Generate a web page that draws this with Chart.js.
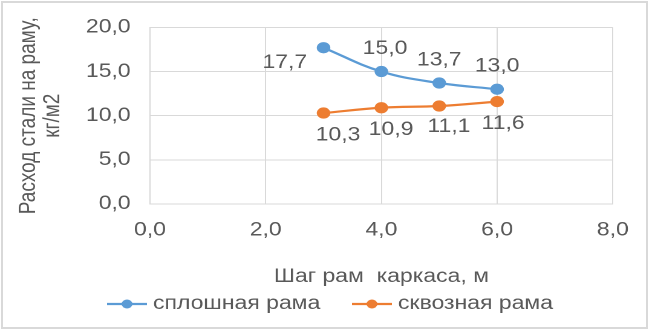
<!DOCTYPE html>
<html>
<head>
<meta charset="utf-8">
<script src="https://cdn.jsdelivr.net/npm/chart.js@4"></script>
<style>
  body { margin: 0; background: #fff; }
  #outer { position: relative; width: 652px; height: 331px; overflow: hidden; }
  #frame { position: absolute; left: 1px; top: 1px; width: 647px; height: 328px; box-sizing: border-box; border: 2px solid #d9d9d9; }
  #wrap { position: absolute; left: 0; top: 0; width: 539px; height: 331px; transform: scaleX(1.2096); transform-origin: 0 0; }
</style>
</head>
<body>
<div id="outer">
  <div id="frame"></div>
  <div id="wrap"><canvas id="chart" width="539" height="331"></canvas></div>
</div>
<script>
const steps = [3, 4, 5, 6];
const solidFrame = [17.7, 15.0, 13.7, 13.0];
const latticeFrame = [10.3, 10.9, 11.1, 11.6];
const seriesNames = ['сплошная рама', 'сквозная рама'];
const xTitle = 'Шаг рам  каркаса, м';
const yTitle = ['Расход стали на раму,', 'кг/м2'];

const textColor = '#595959';
const gridColor = '#d9d9d9';
const colors = ['#5B9BD5', '#ED7D31'];
const font = { family: "'Liberation Sans', Arial, sans-serif", size: 19 };

const fmt = v => v.toFixed(1).replace('.', ',');

// value labels next to each point (offsets in px from the point)
const labelOffsets = [
    [[-32, 15], [3, -23], [0, -23], [0, -23]],
    [[12, 22], [8, 22], [8, 21], [5, 22]]
];

const pointLabels = {
    id: 'pointLabels',
    afterDatasetsDraw(chart) {
        const ctx = chart.ctx;
        ctx.save();
        ctx.font = '19px ' + font.family;
        ctx.fillStyle = textColor;
        ctx.textAlign = 'center';
        ctx.textBaseline = 'middle';
        chart.data.datasets.forEach((ds, i) => {
            chart.getDatasetMeta(i).data.forEach((pt, j) => {
                const off = labelOffsets[i][j];
                ctx.fillText(fmt(ds.data[j].y), pt.x + off[0], pt.y + off[1]);
            });
        });
        ctx.restore();
    }
};

const bottomLegend = {
    id: 'bottomLegend',
    afterDraw(chart) {
        const ctx = chart.ctx;
        const y = 304;
        const starts = [88.5, 291];
        ctx.save();
        ctx.font = '19px ' + font.family;
        ctx.textBaseline = 'middle';
        chart.data.datasets.forEach((ds, i) => {
            const x0 = starts[i];
            ctx.strokeStyle = colors[i];
            ctx.lineWidth = 2.25;
            ctx.beginPath();
            ctx.moveTo(x0, y);
            ctx.lineTo(x0 + 33, y);
            ctx.stroke();
            ctx.fillStyle = colors[i];
            ctx.beginPath();
            ctx.arc(x0 + 16.5, y, 4.5, 0, Math.PI * 2);
            ctx.fill();
            ctx.fillStyle = textColor;
            ctx.fillText(ds.label, x0 + 38, y);
        });
        ctx.restore();
    }
};

const ctx = document.getElementById('chart').getContext('2d');
new Chart(ctx, {
    type: 'line',
    data: {
        datasets: [
            {
                label: seriesNames[0],
                data: steps.map((x, i) => ({ x: x, y: solidFrame[i] })),
                borderColor: colors[0],
                backgroundColor: colors[0],
                borderWidth: 2.25,
                pointRadius: 4.5,
                tension: 0.4
            },
            {
                label: seriesNames[1],
                data: steps.map((x, i) => ({ x: x, y: latticeFrame[i] })),
                borderColor: colors[1],
                backgroundColor: colors[1],
                borderWidth: 2.25,
                pointRadius: 4.5,
                tension: 0.4
            }
        ]
    },
    options: {
        responsive: false,
        animation: false,
        devicePixelRatio: 2,
        layout: { padding: { top: 21, right: 32.4, bottom: 0, left: 0 } },
        plugins: {
            legend: { display: false },
            tooltip: { enabled: false }
        },
        scales: {
            x: {
                type: 'linear',
                min: 0,
                max: 8,
                ticks: { stepSize: 2, color: textColor, font: font, padding: 15, callback: v => fmt(v), maxRotation: 0 },
                grid: { color: gridColor, drawTicks: false },
                border: { color: gridColor },
                title: { display: true, text: xTitle, color: textColor, font: { ...font, lineHeight: 1.2 }, padding: { top: 0, bottom: 43 } },
                afterFit: s => { s.height = 127; }
            },
            y: {
                min: 0,
                max: 20,
                ticks: { stepSize: 5, color: textColor, font: font, padding: 16, callback: v => fmt(v) },
                grid: { color: gridColor, drawTicks: false },
                border: { color: gridColor },
                title: { display: true, text: yTitle, color: textColor, font: { ...font, lineHeight: 1.05 }, padding: { top: 14, bottom: 0 } },
                afterFit: s => { s.width = 124; }
            }
        }
    },
    plugins: [pointLabels, bottomLegend]
});
</script>
</body>
</html>
